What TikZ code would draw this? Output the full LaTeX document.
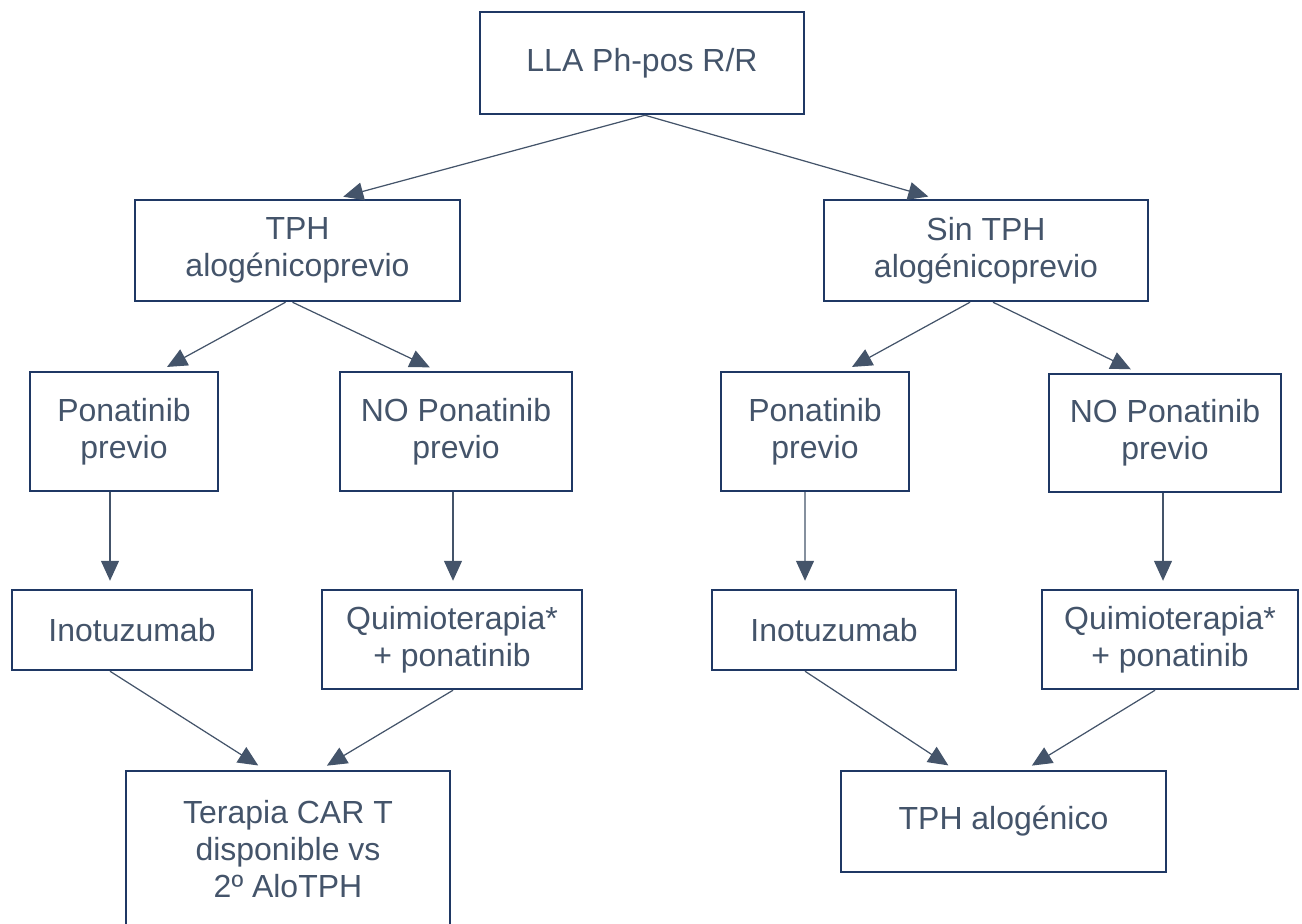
\documentclass[tikz,border=0pt]{standalone}
\usepackage{fontspec}
\setmainfont{Liberation Sans}
\usetikzlibrary{arrows.meta}
\definecolor{boxline}{HTML}{1F3864}
\definecolor{slate}{HTML}{44546A}
\begin{document}
\begin{tikzpicture}[
  >={Triangle[length=2mm,width=1.8mm]},
  box/.style={draw=boxline, line width=0.7pt, text=slate, align=center, inner sep=0pt,
    font=\fontsize{9.1}{10.5}\selectfont},
  arr/.style={->, draw=slate, line width=0.35pt, shorten >=0.08cm}]
\useasboundingbox (0,0) rectangle (13.02,-9.23);
\node[box, minimum width=3.24cm, minimum height=1.02cm] (top) at (6.42,-0.63) {LLA Ph-pos R/R};
\node[box, minimum width=3.25cm, minimum height=1.01cm] (tphA) at (2.975,-2.505) {TPH\\alogénicoprevio};
\node[box, minimum width=3.24cm, minimum height=1.01cm] (sintph) at (9.86,-2.505) {Sin TPH\\alogénicoprevio};
\node[box, minimum width=1.88cm, minimum height=1.19cm] (ponA) at (1.24,-4.315) {Ponatinib\\previo};
\node[box, minimum width=2.32cm, minimum height=1.19cm] (noponA) at (4.56,-4.315) {NO Ponatinib\\previo};
\node[box, minimum width=1.88cm, minimum height=1.19cm] (ponB) at (8.15,-4.315) {Ponatinib\\previo};
\node[box, minimum width=2.32cm, minimum height=1.18cm] (noponB) at (11.65,-4.33) {NO Ponatinib\\previo};
\node[box, minimum width=2.40cm, minimum height=0.80cm] (inoA) at (1.32,-6.30) {Inotuzumab};
\node[box, minimum width=2.60cm, minimum height=0.99cm] (quimA) at (4.52,-6.395) {Quimioterapia*\\+ ponatinib};
\node[box, minimum width=2.44cm, minimum height=0.80cm] (inoB) at (8.34,-6.30) {Inotuzumab};
\node[box, minimum width=2.56cm, minimum height=0.99cm] (quimB) at (11.70,-6.395) {Quimioterapia*\\+ ponatinib};
\node[box, minimum width=3.24cm, minimum height=1.56cm] (terapia) at (2.88,-8.49) {Terapia CAR T\\disponible vs\\2º AloTPH};
\node[box, minimum width=3.25cm, minimum height=1.01cm] (tphalo) at (10.035,-8.215) {TPH alogénico};
% level 1
\draw[arr] ([xshift=0.03cm]top.south) -- ([xshift=0.38cm]tphA.north);
\draw[arr] ([xshift=0.03cm]top.south) -- ([xshift=-0.5cm]sintph.north);
% level 2
\draw[arr] ([xshift=-0.12cm]tphA.south) -- ([xshift=0.36cm]ponA.north);
\draw[arr] ([xshift=-0.05cm]tphA.south) -- ([xshift=-0.19cm]noponA.north);
\draw[arr] ([xshift=-0.16cm]sintph.south) -- ([xshift=0.30cm]ponB.north);
\draw[arr] ([xshift=0.07cm]sintph.south) -- ([xshift=-0.27cm]noponB.north);
% level 3
\draw[arr] ([xshift=-0.14cm]ponA.south) -- ([xshift=-0.22cm]inoA.north);
\draw[arr] ([xshift=-0.03cm]noponA.south) -- ([xshift=0.01cm]quimA.north);
\draw[arr] ([xshift=-0.10cm]ponB.south) -- ([xshift=-0.29cm]inoB.north);
\draw[arr] ([xshift=-0.02cm]noponB.south) -- ([xshift=-0.07cm]quimB.north);
% level 4
\draw[arr] ([xshift=-0.22cm]inoA.south) -- ([xshift=-0.23cm]terapia.north);
\draw[arr] ([xshift=0.01cm]quimA.south) -- ([xshift=0.32cm]terapia.north);
\draw[arr] ([xshift=-0.29cm]inoB.south) -- ([xshift=-0.485cm]tphalo.north);
\draw[arr] ([xshift=-0.15cm]quimB.south) -- ([xshift=0.215cm]tphalo.north);
\end{tikzpicture}
\end{document}
